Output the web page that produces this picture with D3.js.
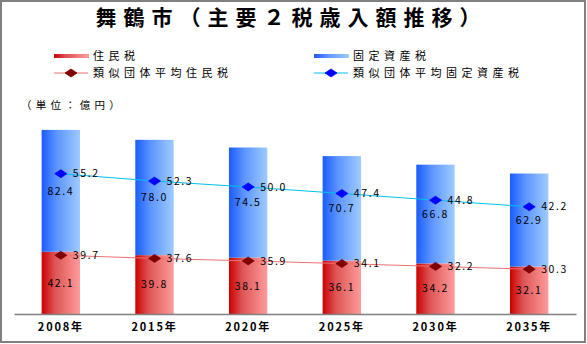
<!DOCTYPE html>
<html><head><meta charset="utf-8">
<script src="https://cdn.jsdelivr.net/npm/d3@7"></script>
<style>
html,body{margin:0;padding:0;background:#fff;}
svg{display:block;}
text{font-family:"Noto Sans CJK JP","Noto Sans",sans-serif;fill:#000;}
</style></head>
<body>
<svg id="chart" width="587" height="344"></svg>
<script>
const years = ["2008年","2015年","2020年","2025年","2030年","2035年"];
const juminzei = [42.1, 39.8, 38.1, 36.1, 34.2, 32.1];
const koteiShisanzei = [82.4, 78.0, 74.5, 70.7, 66.8, 62.9];
const ruijiJuminzei = [39.7, 37.6, 35.9, 34.1, 32.2, 30.3];
const ruijiKotei = [55.2, 52.3, 50.0, 47.4, 44.8, 42.2];
const titleText = "舞鶴市（主要２税歳入額推移）";
const unitText = "（単位：億円）";
const legendNames = ["住民税","固定資産税","類似団体平均住民税","類似団体平均固定資産税"];

const svg = d3.select("#chart");
const defs = svg.append("defs");
const gr = defs.append("linearGradient").attr("id","gRed").attr("x1","0").attr("x2","1").attr("y1","0").attr("y2","0");
gr.append("stop").attr("offset","0%").attr("stop-color","#cc0000");
gr.append("stop").attr("offset","35%").attr("stop-color","#dd5555");
gr.append("stop").attr("offset","100%").attr("stop-color","#ff9c9c");
const gb = defs.append("linearGradient").attr("id","gBlue").attr("x1","0").attr("x2","1").attr("y1","0").attr("y2","0");
gb.append("stop").attr("offset","0%").attr("stop-color","#1a5cff");
gb.append("stop").attr("offset","40%").attr("stop-color","#5c95ff");
gb.append("stop").attr("offset","100%").attr("stop-color","#9fcbff");

// border
svg.append("rect").attr("x",1).attr("y",1).attr("width",584).attr("height",341)
  .attr("fill","none").attr("stroke","#808080").attr("stroke-width",2);

const x = d3.scaleBand().domain(years).range([14,576]).paddingInner(0.59).paddingOuter(0.295);
const y = d3.scaleLinear().domain([0,140]).range([314,107]);

// title
svg.append("text").attr("x",291.5).attr("y",25).attr("text-anchor","middle")
  .style("font-size","21px").style("font-weight","700").style("letter-spacing","7px")
  .text(titleText);

// bars
const g = svg.append("g");
years.forEach((yr,i)=>{
  const r = juminzei[i], b = koteiShisanzei[i];
  g.append("rect").attr("x",x(yr)).attr("width",x.bandwidth())
    .attr("y",y(r)).attr("height",y(0)-y(r)).attr("fill","url(#gRed)");
  g.append("rect").attr("x",x(yr)).attr("width",x.bandwidth())
    .attr("y",y(r+b)).attr("height",y(r)-y(r+b)).attr("fill","url(#gBlue)");
  const cx = x(yr)+x.bandwidth()/2;
  g.append("text").attr("x",cx).attr("y",(y(0)+y(r))/2).attr("dy","0.35em")
    .attr("text-anchor","middle").style("font-size","10.5px").style("letter-spacing","1.6px")
    .text(r.toFixed(1));
  g.append("text").attr("x",cx).attr("y",(y(r)+y(r+b))/2).attr("dy","0.35em")
    .attr("text-anchor","middle").style("font-size","10.5px").style("letter-spacing","1.6px")
    .text(b.toFixed(1));
});

// axis
const xAxis = d3.axisBottom(x).tickSize(0).tickPadding(9);
const ax = svg.append("g").attr("transform","translate(0,314)").call(xAxis);
ax.select(".domain").attr("stroke","#808080").attr("stroke-width",1.5);
ax.selectAll("text").style("font-size","11px").style("font-weight","700")
  .style("letter-spacing","1.8px").style("font-family","\"Noto Sans CJK JP\",sans-serif");

// lines (stacked)
const cxf = d => x(d)+x.bandwidth()/2;
const redPts = years.map((yr,i)=>[cxf(yr), y(ruijiJuminzei[i])]);
const bluePts = years.map((yr,i)=>[cxf(yr), y(ruijiJuminzei[i]+ruijiKotei[i])]);
const line = d3.line();
svg.append("path").attr("d",line(redPts)).attr("fill","none").attr("stroke","#f07070").attr("stroke-width",1);
svg.append("path").attr("d",line(bluePts)).attr("fill","none").attr("stroke","#00c0f0").attr("stroke-width",1);

function diamond(sel, cx, cy, color){
  sel.append("path").attr("d",`M${cx-6},${cy} L${cx},${cy-4} L${cx+6},${cy} L${cx},${cy+4} Z`)
    .attr("fill",color).attr("stroke",color).attr("stroke-width",0.8);
}
redPts.forEach((p,i)=>{
  diamond(svg,p[0],p[1],"#800000");
  svg.append("text").attr("x",p[0]+12).attr("y",p[1]).attr("dy","0.35em")
    .style("font-size","10.5px").style("letter-spacing","1.6px").text(ruijiJuminzei[i].toFixed(1));
});
bluePts.forEach((p,i)=>{
  diamond(svg,p[0],p[1],"#0000ff");
  svg.append("text").attr("x",p[0]+12).attr("y",p[1]).attr("dy","0.35em")
    .style("font-size","10.5px").style("letter-spacing","1.6px").text(ruijiKotei[i].toFixed(1));
});

// legend
const lg = svg.append("g");
const legItems = [
  {x:54, y:56, type:"bar", fill:"url(#gRed)", name:legendNames[0]},
  {x:314, y:56, type:"bar", fill:"url(#gBlue)", name:legendNames[1]},
  {x:54, y:73, type:"line", stroke:"#f07070", mk:"#800000", name:legendNames[2]},
  {x:314, y:73, type:"line", stroke:"#00c0f0", mk:"#0000ff", name:legendNames[3]}
];
legItems.forEach(it=>{
  if(it.type==="bar"){
    lg.append("rect").attr("x",it.x).attr("y",it.y-2).attr("width",35).attr("height",4).attr("fill",it.fill);
  } else {
    lg.append("line").attr("x1",it.x).attr("x2",it.x+34).attr("y1",it.y).attr("y2",it.y)
      .attr("stroke",it.stroke).attr("stroke-width",1);
    diamond(lg,it.x+17,it.y,it.mk);
  }
  lg.append("text").attr("x",it.x+39).attr("y",it.y).attr("dy","0.35em")
    .style("font-size","11px").style("letter-spacing","4.5px").text(it.name);
});

// unit
svg.append("text").attr("x",21).attr("y",105).attr("dy","0.35em")
  .style("font-size","10.5px").style("letter-spacing","4.2px").text(unitText);
</script>
</body></html>
